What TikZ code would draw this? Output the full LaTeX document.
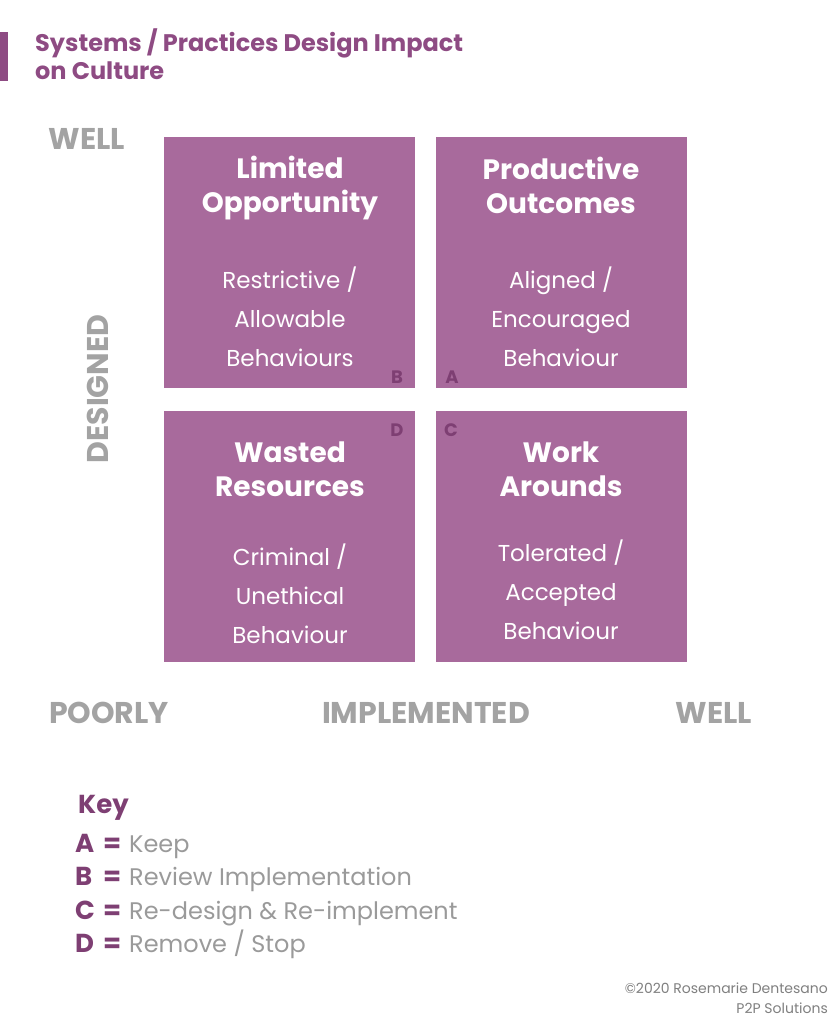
\documentclass[tikz,border=0pt]{standalone}
\usepackage{fontspec}
\setmainfont{Poppins}
\definecolor{quad}{HTML}{A86A9C}
\definecolor{deep}{HTML}{7E3F73}
\definecolor{titlec}{HTML}{8E4B83}
\definecolor{axisgray}{HTML}{A3A3A3}
\definecolor{keygray}{HTML}{9A9A9A}
\definecolor{notegray}{HTML}{7F7F7F}
\begin{document}
\begin{tikzpicture}[x=1pt, y=-1pt,
  quadbox/.style={fill=quad, minimum width=251pt, minimum height=251pt, anchor=north west, inner sep=0pt},
  quadtitle/.style={text=white, font=\bfseries\fontsize{28}{34}\selectfont, align=center},
  quadnote/.style={text=white, font=\fontsize{23}{39}\selectfont, align=center},
  quadletter/.style={text=deep, font=\bfseries\fontsize{18}{18}\selectfont},
  axislabel/.style={text=axisgray, font=\bfseries\fontsize{30}{30}\selectfont},
  keyletter/.style={anchor=base west, text=deep, inner sep=0pt, font=\bfseries\fontsize{26}{26}\selectfont},
  keyline/.style={anchor=base west, text=keygray, inner sep=0pt, font=\fontsize{24}{24}\selectfont}]
\useasboundingbox (0,0) rectangle (839,1024);
% title
\fill[titlec] (0,32) rectangle (8,81);
\node[anchor=base west, inner sep=0pt, text=titlec, font=\bfseries\fontsize{24}{24}\selectfont] (title1) at (35,52) {Systems / Practices Design Impact};
\node[anchor=base west, inner sep=0pt, text=titlec, font=\bfseries\fontsize{24}{24}\selectfont] (title2) at (35,80) {on Culture};
% quadrants
\node[quadbox] (limited) at (164,137) {};
\node[quadbox] (productive) at (436,137) {};
\node[quadbox] (wasted) at (164,411) {};
\node[quadbox] (workarounds) at (436,411) {};
\node[quadtitle] (limitedT) at (290,188) {Limited\\Opportunity};
\node[quadtitle] (productiveT) at (561,185) {Productive\\Outcomes};
\node[quadtitle] (wastedT) at (290,469) {Wasted\\Resources};
\node[quadtitle] (workaroundsT) at (561,469) {Work\\Arounds};
\node[quadnote] (limitedN) at (290,317) {Restrictive /\\Allowable\\Behaviours};
\node[quadnote] (productiveN) at (561,317) {Aligned /\\Encouraged\\Behaviour};
\node[quadnote] (wastedN) at (290,594) {Criminal /\\Unethical\\Behaviour};
\node[quadnote] (workaroundsN) at (561,590) {Tolerated /\\Accepted\\Behaviour};
\node[quadletter] (B) at (397,377) {B};
\node[quadletter] (A) at (452,377) {A};
\node[quadletter] (D) at (397,430) {D};
\node[quadletter] (C) at (451,430) {C};
% axes
\node[axislabel] (wellY) at (87,139) {WELL};
\node[axislabel, rotate=90] (designed) at (98,389) {DESIGNED};
\node[axislabel] (poorly) at (109,713) {POORLY};
\node[axislabel] (implemented) at (426,713) {IMPLEMENTED};
\node[axislabel] (wellX) at (714,713) {WELL};
% key
\node[keyletter] (key) at (78,813) {Key};
\node[keyletter] (keyA) at (75,852) {A};
\node[keyletter] (keyB) at (75,885) {B};
\node[keyletter] (keyC) at (75,919) {C};
\node[keyletter] (keyD) at (75,952) {D};
\node[keyletter] (eqA) at (103,852) {=};
\node[keyletter] (eqB) at (103,885) {=};
\node[keyletter] (eqC) at (103,919) {=};
\node[keyletter] (eqD) at (103,952) {=};
\node[keyline] (textA) at (129,852) {Keep};
\node[keyline] (textB) at (129,885) {Review Implementation};
\node[keyline] (textC) at (129,919) {Re-design \& Re-implement};
\node[keyline] (textD) at (129,952) {Remove / Stop};
% footer
\node[anchor=base east, inner sep=0pt, text=notegray, font=\fontsize{14}{14}\selectfont] (copy) at (828,993) {\textcopyright 2020 Rosemarie Dentesano};
\node[anchor=base east, inner sep=0pt, text=notegray, font=\fontsize{14}{14}\selectfont] (company) at (828,1013) {P2P Solutions};
\end{tikzpicture}
\end{document}
